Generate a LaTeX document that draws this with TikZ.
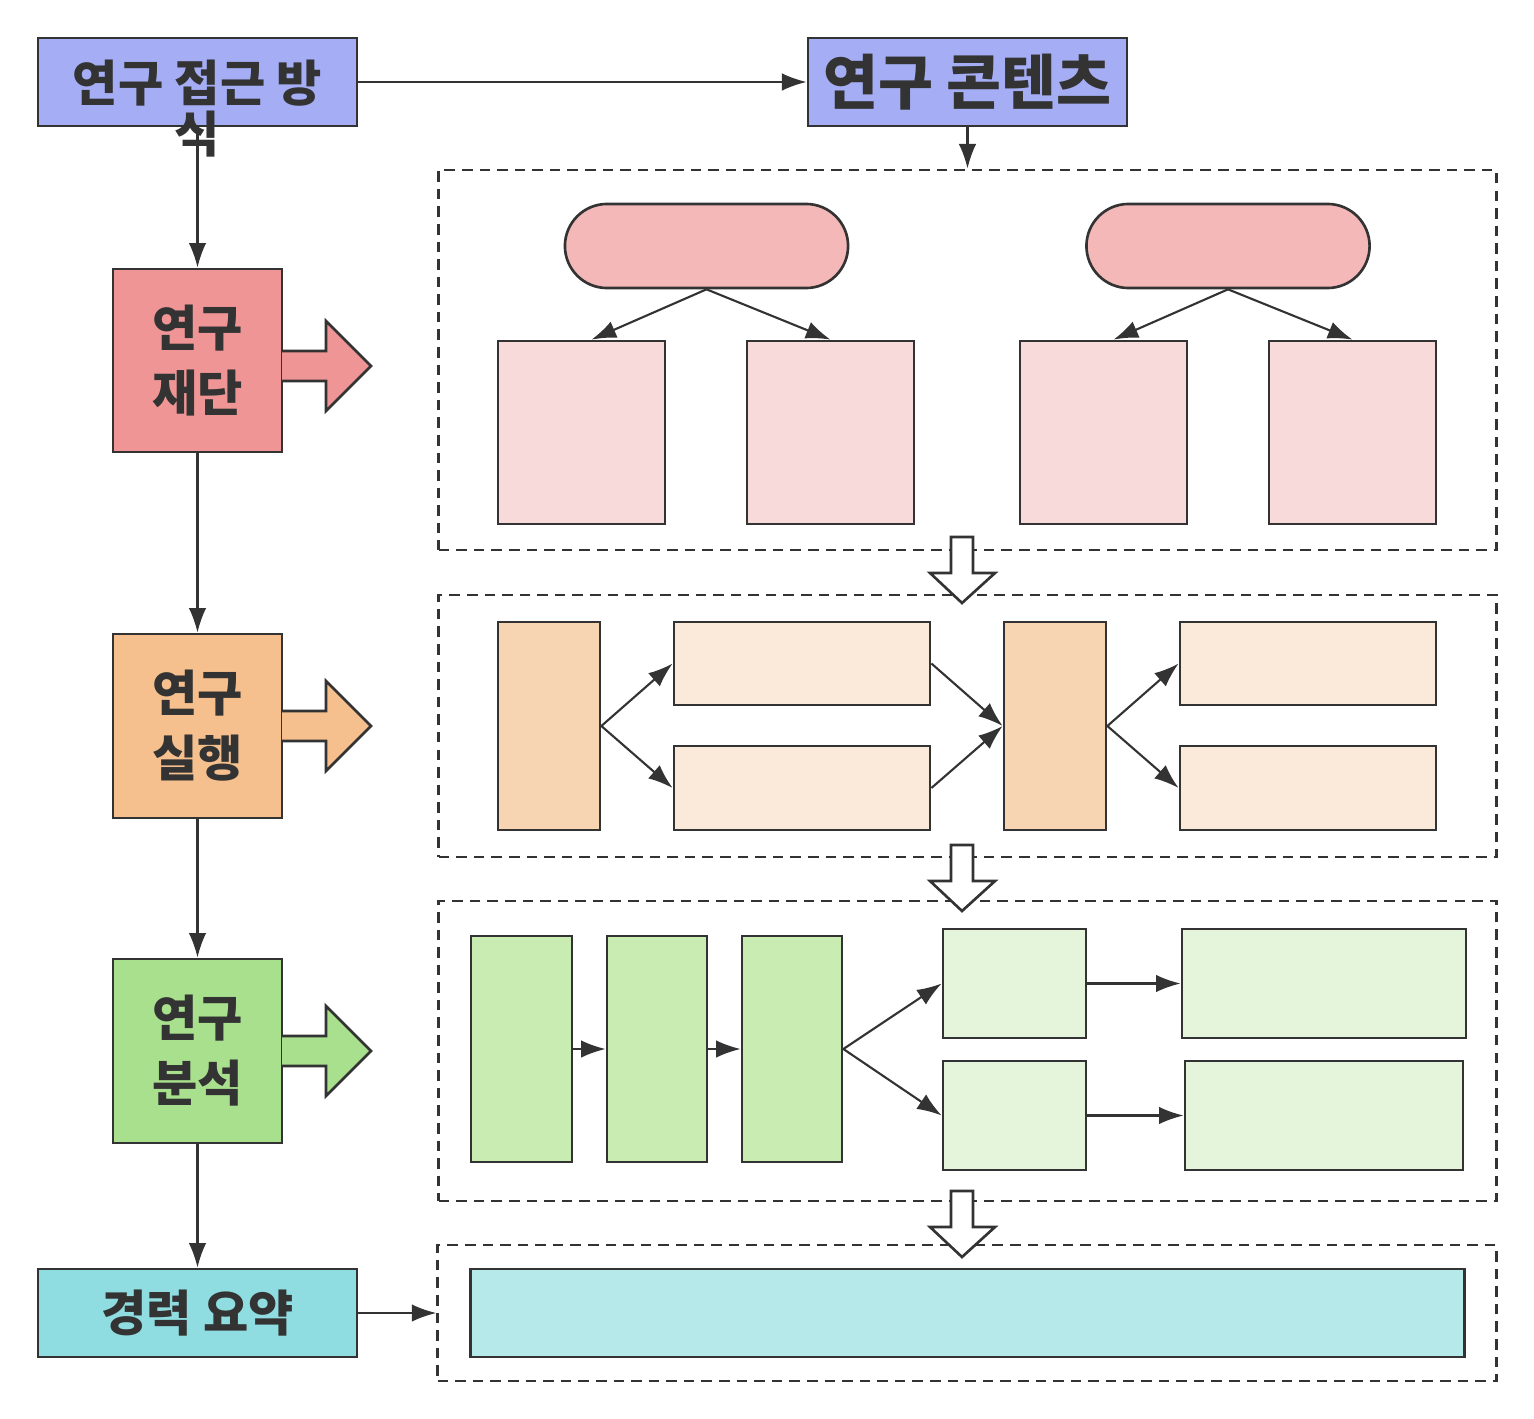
\documentclass[tikz,border=0pt]{standalone}
\usepackage{fontspec}
\setmainfont{Noto Sans CJK KR}
\usetikzlibrary{shapes.misc,arrows.meta}
\definecolor{edge}{HTML}{333333}
\definecolor{blueF}{HTML}{A5AEF5}
\definecolor{redF}{HTML}{F09595}
\definecolor{pillF}{HTML}{F4B8B8}
\definecolor{redL}{HTML}{F8DADA}
\definecolor{oraF}{HTML}{F5C08E}
\definecolor{oraM}{HTML}{F7D4B2}
\definecolor{oraL}{HTML}{FBE9D9}
\definecolor{grnF}{HTML}{A8E08D}
\definecolor{grnM}{HTML}{C9ECB3}
\definecolor{grnL}{HTML}{E5F5DC}
\definecolor{cyaF}{HTML}{8FDDE0}
\definecolor{cyaL}{HTML}{B5E9EA}
\tikzset{
  box/.style={draw=edge, line width=0.75pt, inner sep=0pt},
  phase/.style={box, align=center, text=edge, font=\fontsize{14}{18.5}\selectfont\bfseries},
  frame/.style={draw=edge, dash pattern=on 3pt off 2pt, line width=0.75pt, inner sep=0pt},
  link/.style={draw=edge, line width=0.6pt, -{Latex[length=7pt,width=5pt]}},
  fat/.style={draw=edge, line width=0.75pt}
}
\begin{document}
\begin{tikzpicture}[x=0.01cm,y=-0.01cm]
  \useasboundingbox (0,0) rectangle (1534,1419);
  % left column
  \node[phase, fill=blueF, minimum width=3.19cm, minimum height=0.88cm] (appr) at (197.5,82) {};
  \node[align=center, text=edge, font=\fontsize{14}{14.5}\selectfont\bfseries] at (197.5,109) {연구 접근 방\\식};
  \node[phase, fill=blueF, minimum width=3.19cm, minimum height=0.88cm, font=\fontsize{17}{20}\selectfont\bfseries] (cont) at (967.5,82) {연구 콘텐츠};
  \node[phase, fill=redF, minimum width=1.69cm, minimum height=1.83cm] (found) at (197.5,360.5) {연구\\재단};
  \node[phase, fill=oraF, minimum width=1.69cm, minimum height=1.84cm] (exec) at (197.5,726) {연구\\실행};
  \node[phase, fill=grnF, minimum width=1.69cm, minimum height=1.84cm] (anal) at (197.5,1051) {연구\\분석};
  \node[phase, fill=cyaF, minimum width=3.19cm, minimum height=0.88cm] (summ) at (197.5,1313) {경력 요약};
  % fat arrows
  \draw[fat, fill=redF] (282,351) -- (326,351) -- (326,321) -- (371,366) -- (326,411) -- (326,381) -- (282,381);
  \draw[fat, fill=oraF] (282,711) -- (326,711) -- (326,681) -- (371,726) -- (326,771) -- (326,741) -- (282,741);
  \draw[fat, fill=grnF] (282,1036) -- (326,1036) -- (326,1006) -- (371,1051) -- (326,1096) -- (326,1066) -- (282,1066);
  % frames
  \node[frame, minimum width=10.57cm, minimum height=3.80cm] (fr1) at (967.5,360) {};
  \node[frame, minimum width=10.57cm, minimum height=2.62cm] (fr2) at (967.5,726) {};
  \node[frame, minimum width=10.57cm, minimum height=3.00cm] (fr3) at (967.5,1051) {};
  \node[frame, minimum width=10.58cm, minimum height=1.36cm] (fr4) at (967,1313) {};
  % hollow arrows
  \foreach \y in {537,845,1191}
    \draw[fat, fill=white] (951,\y) -- (973,\y) -- (973,\y+36) -- (995,\y+36) -- (962,\y+66) -- (930,\y+36) -- (951,\y+36) -- cycle;
  % section 1
  \node[box, fill=pillF, rounded rectangle, minimum width=2.83cm, minimum height=0.84cm] (p1) at (706.5,246) {};
  \node[box, fill=pillF, rounded rectangle, minimum width=2.83cm, minimum height=0.84cm] (p2) at (1228,246) {};
  \foreach \n/\x in {a1/581.5,a2/830.5,a3/1103.5,a4/1352.5}
    \node[box, fill=redL, minimum width=1.67cm, minimum height=1.83cm] (\n) at (\x,432.5) {};
  \draw[link] (p1.south) -- ([xshift=0.1cm]a1.north);
  \draw[link] (p1.south) -- (a2.north);
  \draw[link] (p2.south) -- ([xshift=0.1cm]a3.north);
  \draw[link] (p2.south) -- (a4.north);
  % section 2
  \node[box, fill=oraM, minimum width=1.02cm, minimum height=2.08cm] (b1) at (549,726) {};
  \node[box, fill=oraL, minimum width=2.56cm, minimum height=0.83cm] (b2) at (802,663.5) {};
  \node[box, fill=oraL, minimum width=2.56cm, minimum height=0.84cm] (b3) at (802,788) {};
  \node[box, fill=oraM, minimum width=1.02cm, minimum height=2.08cm] (b4) at (1055,726) {};
  \node[box, fill=oraL, minimum width=2.56cm, minimum height=0.83cm] (b5) at (1308,663.5) {};
  \node[box, fill=oraL, minimum width=2.56cm, minimum height=0.84cm] (b6) at (1308,788) {};
  \draw[link] (b1.east) -- (b2.west);
  \draw[link] (b1.east) -- (b3.west);
  \draw[link] (b2.east) -- (b4.west);
  \draw[link] (b3.east) -- (b4.west);
  \draw[link] (b4.east) -- (b5.west);
  \draw[link] (b4.east) -- (b6.west);
  % section 3
  \node[box, fill=grnM, minimum width=1.01cm, minimum height=2.26cm] (g1) at (521.5,1049) {};
  \node[box, fill=grnM, minimum width=1.00cm, minimum height=2.26cm] (g2) at (657,1049) {};
  \node[box, fill=grnM, minimum width=1.00cm, minimum height=2.26cm] (g3) at (792,1049) {};
  \node[box, fill=grnL, minimum width=1.43cm, minimum height=1.09cm] (g4) at (1014.5,983.5) {};
  \node[box, fill=grnL, minimum width=1.43cm, minimum height=1.09cm] (g5) at (1014.5,1115.5) {};
  \node[box, fill=grnL, minimum width=2.84cm, minimum height=1.09cm] (g6) at (1324,983.5) {};
  \node[box, fill=grnL, minimum width=2.78cm, minimum height=1.09cm] (g7) at (1324,1115.5) {};
  \draw[link] (g1) -- (g2);
  \draw[link] (g2) -- (g3);
  \draw[link] (g3.east) -- (g4.west);
  \draw[link] (g3.east) -- (g5.west);
  \draw[link] (g4) -- (g6);
  \draw[link] (g5) -- (g7);
  % section 4
  \node[box, fill=cyaL, minimum width=9.93cm, minimum height=0.88cm] (sum) at (967.5,1313) {};
  % main flow
  \draw[link] (appr) -- (cont);
  \draw[link] (cont) -- (fr1);
  \draw[link] (appr) -- (found);
  \draw[link] (found) -- (exec);
  \draw[link] (exec) -- (anal);
  \draw[link] (anal) -- (summ);
  \draw[link] (summ) -- (fr4);
\end{tikzpicture}
\end{document}
